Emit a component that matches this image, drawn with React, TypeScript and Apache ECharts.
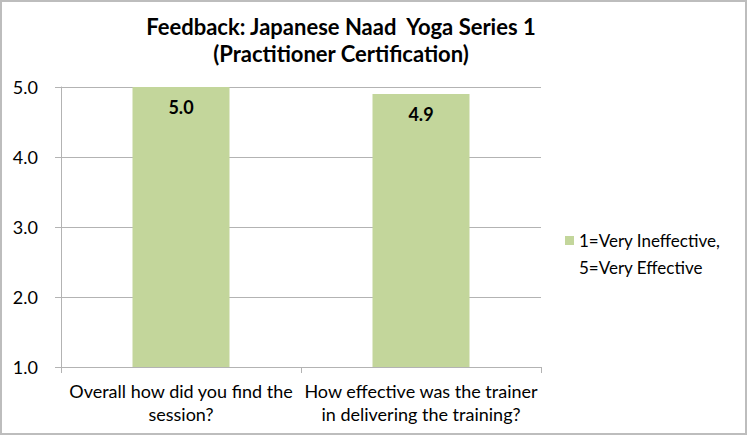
import React, { useEffect, useRef } from "react";
import * as echarts from "echarts";

const categories = [
  "Overall how did you find the\nsession?",
  "How effective was the trainer\nin delivering the training?",
];
const values = [5.0, 4.9];
const seriesName = "1=Very Ineffective,\n5=Very Effective";
const titleLines = ["Feedback: Japanese Naad  Yoga Series 1", "(Practitioner Certification)"];

const FONT = "Lato, 'Open Sans', sans-serif";

export default function App() {
  const ref = useRef<HTMLDivElement>(null);
  useEffect(() => {
    if (!ref.current) return;
    const chart = echarts.init(ref.current, null, { renderer: "svg" });
    chart.setOption({
      animation: false,
      backgroundColor: "#ffffff",
      textStyle: { fontFamily: FONT },
      graphic: [
        {
          type: "text",
          x: 341,
          y: 26,
          style: {
            text: titleLines[0],
            font: `bold 22px ${FONT}`,
            fill: "#000",
            textAlign: "center",
            textVerticalAlign: "middle",
          },
        },
        {
          type: "text",
          x: 341,
          y: 53,
          style: {
            text: titleLines[1],
            font: `bold 22px ${FONT}`,
            fill: "#000",
            textAlign: "center",
            textVerticalAlign: "middle",
          },
        },
      ],
      legend: {
        orient: "vertical",
        left: 560,
        top: 222,
        itemWidth: 9,
        itemHeight: 36,
        icon: "path://M0,0L9,0L9,9L0,9Z M0,36L0,36Z",
        textStyle: { fontFamily: FONT, fontSize: 17, color: "#000", lineHeight: 27 },
        data: [seriesName],
      },
      grid: { left: 61, right: 206, top: 87, bottom: 68 },
      xAxis: {
        type: "category",
        data: categories,
        axisLine: { show: true, lineStyle: { color: "#b3b3b3", width: 1 } },
        axisTick: { show: true, length: 6, lineStyle: { color: "#b3b3b3" } },
        axisLabel: {
          interval: 0,
          color: "#000",
          fontFamily: FONT,
          fontSize: 18,
          lineHeight: 23,
          margin: 12,
        },
      },
      yAxis: {
        type: "value",
        min: 1,
        max: 5,
        interval: 1,
        axisLine: { show: true, lineStyle: { color: "#b3b3b3", width: 1 } },
        axisTick: { show: true, length: 6, lineStyle: { color: "#b3b3b3" } },
        splitLine: { show: true, lineStyle: { color: "#b3b3b3", width: 1 } },
        axisLabel: {
          color: "#000",
          fontFamily: FONT,
          fontSize: 18,
          margin: 23,
          formatter: (v: number) => v.toFixed(1),
        },
      },
      series: [
        {
          name: seriesName,
          type: "bar",
          data: values,
          barWidth: 97,
          itemStyle: { color: "#c3d69b" },
          label: {
            show: true,
            position: "insideTop",
            distance: 11,
            color: "#000",
            fontFamily: FONT,
            fontWeight: "bold",
            fontSize: 18,
            formatter: (p: any) => Number(p.value).toFixed(1),
          },
        },
      ],
    });
    return () => chart.dispose();
  }, []);
  return (
    <div
      style={{
        position: "fixed",
        left: 0,
        top: 0,
        width: 747,
        height: 435,
        background: "#fff",
      }}
    >
      <div ref={ref} style={{ position: "absolute", left: 0, top: 0, width: 747, height: 435 }} />
      <div
        style={{
          position: "absolute",
          left: 0,
          top: 0,
          width: 747,
          height: 435,
          boxSizing: "border-box",
          border: "2px solid #bdbdbd",
          pointerEvents: "none",
        }}
      />
    </div>
  );
}
